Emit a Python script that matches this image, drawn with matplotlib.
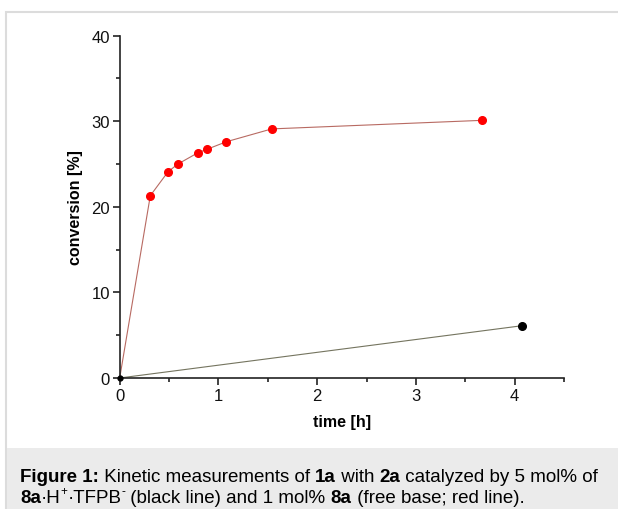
import matplotlib
matplotlib.use("Agg")
import matplotlib.pyplot as plt
from matplotlib.patches import Rectangle
from matplotlib.ticker import MultipleLocator

plt.rcParams["font.family"] = ["Liberation Sans", "DejaVu Sans"]

# free base 8a (1 mol%), red line
red_time = [0, 0.31, 0.49, 0.59, 0.79, 0.88, 1.08, 1.54, 3.67]
red_conv = [0, 21.3, 24.1, 25.0, 26.3, 26.7, 27.6, 29.1, 30.1]

# 8a.H+.TFPB- (5 mol%), black line
black_time = [0, 4.07]
black_conv = [0, 6.1]

x_ticks = [0, 1, 2, 3, 4]
y_ticks = [0, 10, 20, 30, 40]

# caption pieces: (text, bold, superscript)
caption_line1 = [
    ("Figure 1:", True, False), (" Kinetic measurements of ", False, False),
    ("1a", True, False), (" with ", False, False), ("2a", True, False),
    (" catalyzed by 5 mol% of", False, False),
]
caption_line2 = [
    ("8a", True, False), ("·H", False, False), ("+", False, True),
    ("·TFPB", False, False), ("-", False, True),
    (" (black line) and 1 mol% ", False, False), ("8a", True, False),
    (" (free base; red line).", False, False),
]

W, H = 618, 510
fig = plt.figure(figsize=(W / 100, H / 100), dpi=100)

# page frame and caption box
fig.patches.append(Rectangle((6 / W, 0), 1, 1 - 12.5 / H, transform=fig.transFigure,
                             facecolor="white", edgecolor="#dcdcdc", lw=1.5, zorder=0))
fig.patches.append(Rectangle((6.7 / W, 0), 1, 1 - 449 / H, transform=fig.transFigure,
                             facecolor="#ebebeb", edgecolor="none", zorder=0.5))

ax = fig.add_axes([119.7 / W, 1 - 379 / H, (564 - 119.7) / W, (379 - 36.6) / H])
ax.set_zorder(2)
ax.set_facecolor("none")

ax.plot(black_time, black_conv, color="#74745f", lw=0.8, zorder=2, clip_on=False)
ax.plot(black_time[1:], black_conv[1:], "o", color="black", ms=5.5, zorder=3, clip_on=False)
ax.plot(black_time[:1], black_conv[:1], "o", color="black", ms=3.5, zorder=3, clip_on=False)
ax.plot(red_time, red_conv, color="#b86a62", lw=0.8, zorder=2, clip_on=False)
ax.plot(red_time[1:], red_conv[1:], "o", color="#ff0000", ms=5.5, zorder=4, clip_on=False)

ax.set_xlim(0, 4.5)
ax.set_ylim(0, 40)
ax.set_xticks(x_ticks)
ax.set_yticks(y_ticks)
ax.xaxis.set_minor_locator(MultipleLocator(0.5))
ax.yaxis.set_minor_locator(MultipleLocator(5))

for side in ["top", "right"]:
    ax.spines[side].set_visible(False)
for side in ["left", "bottom"]:
    ax.spines[side].set_linewidth(1.2)
    ax.spines[side].set_color("#222222")

ax.tick_params(which="major", direction="out", length=5, width=1.2, color="#222222",
               labelsize=12, pad=2, labelcolor="#111111")
ax.tick_params(which="minor", direction="out", length=3, width=1.2, color="#222222")

ax.set_xlabel("time [h]", fontsize=11.5, fontweight="bold", labelpad=8)
ax.set_ylabel("conversion [%]", fontsize=11.5, fontweight="bold", labelpad=6)

# caption, drawn piece by piece
renderer = fig.canvas.get_renderer()


def draw_caption_line(pieces, x_px, baseline_px, size=13.5):
    x = x_px
    for text, bold, sup in pieces:
        fs = size * 0.62 if sup else size
        y = baseline_px - (size * 0.6 if sup else 0)
        t = fig.text(x / W, 1 - y / H, text, fontsize=fs,
                     fontweight="bold" if bold else "normal",
                     ha="left", va="baseline", zorder=5)
        x += t.get_window_extent(renderer).width


draw_caption_line(caption_line1, 20, 482)
draw_caption_line(caption_line2, 20, 503)

fig.savefig("out.png", dpi=100)
